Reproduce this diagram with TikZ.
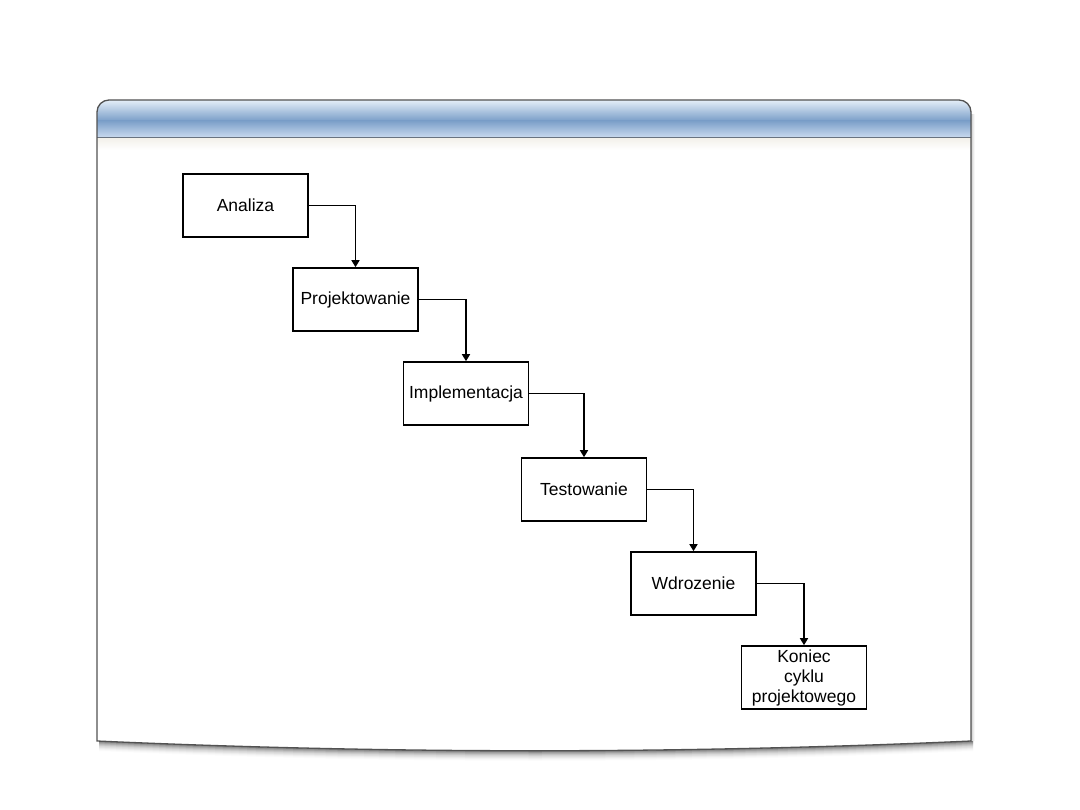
\documentclass[tikz,border=0pt]{standalone}
\usepackage{fontspec}
\setmainfont{Liberation Sans}
\usetikzlibrary{arrows.meta}
\definecolor{hdtop}{RGB}{228,238,248}
\definecolor{hdmid}{RGB}{122,158,200}
\definecolor{hdbot}{RGB}{204,220,240}
\definecolor{hdline}{RGB}{105,115,128}
\definecolor{hdglow}{RGB}{244,242,236}
\begin{document}
\begin{tikzpicture}[x=1pt,y=-1pt,
  stepbox/.style={draw=black,line width=1.6pt,minimum width=125pt,minimum height=63pt,
    inner sep=0pt,font=\fontsize{17.5}{20}\selectfont,align=center,fill=white},
  conn/.style={line width=1.5pt,-{Triangle[length=7pt,width=8pt]}},
  panelborder/.style={draw=black!68,line width=1.3pt}]
\useasboundingbox (0,0) rectangle (1080,810);
% shadow
\foreach \d/\o in {1/0.16,2/0.13,3/0.10,4/0.08,5/0.06,6/0.05,7/0.04,8/0.03,9/0.02,10/0.015}{
  \fill[black,opacity=\o] (99,741+\d) .. controls (390,754+\d) and (680,754+\d) .. (973,741+\d)
     -- (973,741) .. controls (680,754) and (390,754) .. (99,741) -- cycle;
}
\foreach \d/\o in {1/0.10,2/0.07,3/0.05,4/0.03}{
  \fill[black,opacity=\o] (971,114) rectangle (971+\d,741);
}
% panel body
\fill[white] (97,741) -- (97,112) arc[start angle=180,end angle=270,radius=12] -- (959,100)
  arc[start angle=270,end angle=360,radius=12] -- (971,741)
  .. controls (680,754) and (390,754) .. (97,741) -- cycle;
% header
\begin{scope}
\clip (97,138) -- (97,112) arc[start angle=180,end angle=270,radius=12] -- (959,100)
  arc[start angle=270,end angle=360,radius=12] -- (971,138) -- cycle;
\shade[top color=hdtop,bottom color=hdmid] (97,100) rectangle (971,121);
\shade[top color=hdmid,bottom color=hdbot] (97,120.5) rectangle (971,138);
\end{scope}
\shade[top color=hdglow,bottom color=white] (97,139) rectangle (971,150);
\draw[hdline,line width=1.3pt] (97,137.5) -- (971,137.5);
% border
\draw[panelborder] (97,741) -- (97,112) arc[start angle=180,end angle=270,radius=12] -- (959,100)
  arc[start angle=270,end angle=360,radius=12] -- (971,741)
  .. controls (680,754) and (390,754) .. (97,741) -- cycle;
% boxes
\node[stepbox] (a) at (245.5,205.5) {Analiza};
\node[stepbox] (p) at (355.5,299.5) {Projektowanie};
\node[stepbox] (i) at (466,393.5) {Implementacja};
\node[stepbox] (t) at (584,489.5) {Testowanie};
\node[stepbox] (w) at (693.5,583.5) {Wdrozenie};
\node[stepbox] (k) at (804,677.5) {Koniec\\cyklu\\projektowego};
% connectors
\draw[conn] (a.east) -| (p.north);
\draw[conn] (p.east) -| (i.north);
\draw[conn] (i.east) -| (t.north);
\draw[conn] (t.east) -| (w.north);
\draw[conn] (w.east) -| (k.north);
\end{tikzpicture}
\end{document}
